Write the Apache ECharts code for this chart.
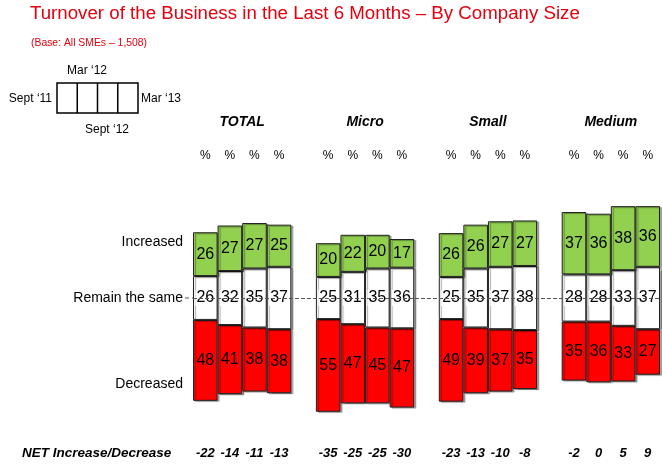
<!DOCTYPE html>
<html>
<head>
<meta charset="utf-8">
<script src="https://cdn.jsdelivr.net/npm/echarts@6/dist/echarts.min.js"></script>
<style>
  html, body { margin: 0; padding: 0; background: #fff; }
  #main { width: 662px; height: 464px; }
</style>
</head>
<body>
<div id="main"></div>
<script>
// groups of bars, 4 periods each
const groups = ['TOTAL', 'Micro', 'Small', 'Medium'];
const periods = ['Sept \u201811', 'Mar \u201812', 'Sept \u201812', 'Mar \u201813'];

const increased = [26, 27, 27, 25, 20, 22, 20, 17, 26, 26, 27, 27, 37, 36, 38, 36];
const sameLevel = [26, 32, 35, 37, 25, 31, 35, 36, 25, 35, 37, 38, 28, 28, 33, 37];
const decreased = [48, 41, 38, 38, 55, 47, 45, 47, 49, 39, 37, 35, 35, 36, 33, 27];
const netLabels = ['-22', '-14', '-11', '-13', '-35', '-25', '-25', '-30', '-23', '-13', '-10', '-8', '-2', '0', '5', '9'];

const rowLabels = ['Increased', 'Remain the same', 'Decreased'];
const rowValues = [33, 0, -51];

const FONT = '"Liberation Sans", Arial, sans-serif';
const GREEN = '#92d050';
const RED = '#ff0000';
const TITLE_RED = '#e3000f';

// spread the bars over slots, one empty slot between groups
var cats = [], inc = [], same = [], dec = [], base = [], net = [];
groups.forEach(function (g, gi) {
  periods.forEach(function (p, pi) {
    var i = gi * 4 + pi;
    cats.push(g + ' ' + p);
    inc.push(increased[i]);
    same.push(sameLevel[i]);
    dec.push(decreased[i]);
    base.push(-(sameLevel[i] / 2 + decreased[i]));
    net.push(netLabels[i]);
  });
  if (gi < groups.length - 1) {
    cats.push('gap' + gi);
    inc.push(null); same.push(null); dec.push(null); base.push(null); net.push('');
  }
});

const chart = echarts.init(document.getElementById('main'));

const barStyle = function (color) {
  return {
    color: color,
    borderColor: '#222',
    borderWidth: 1,
    shadowColor: 'rgba(0,0,0,0.35)',
    shadowOffsetX: 2,
    shadowOffsetY: 1,
    shadowBlur: 1
  };
};
const barLabel = {
  show: true,
  position: 'inside',
  color: '#000',
  fontFamily: FONT,
  fontSize: 16
};

var option = {
  animation: false,
  grid: { left: 193, right: 2, top: 180, bottom: 48 },
  xAxis: [{
    type: 'category',
    data: cats,
    axisLine: { show: false },
    axisTick: { show: false },
    axisLabel: {
      interval: 0,
      margin: 31,
      fontFamily: FONT,
      fontSize: 13,
      fontStyle: 'italic',
      fontWeight: 'bold',
      color: '#000',
      formatter: function (v, idx) { return net[idx]; }
    }
  }, {
    type: 'category',
    position: 'top',
    data: cats,
    axisLine: { show: false },
    axisTick: { show: false },
    axisLabel: {
      interval: 0,
      margin: 18,
      fontFamily: FONT,
      fontSize: 12,
      color: '#000',
      formatter: function (v, idx) { return net[idx] === '' ? '' : '%'; }
    }
  }],
  yAxis: {
    type: 'value',
    min: -70,
    max: 70,
    show: false
  },
  series: [{
    name: 'base',
    type: 'bar',
    stack: 'a',
    stackStrategy: 'all',
    barWidth: '100%',
    silent: true,
    itemStyle: { color: 'transparent' },
    data: base
  }, {
    name: 'Decreased',
    type: 'bar',
    stack: 'a',
    stackStrategy: 'all',
    itemStyle: barStyle(RED),
    label: barLabel,
    data: dec
  }, {
    name: 'Remain the same',
    type: 'bar',
    stack: 'a',
    stackStrategy: 'all',
    itemStyle: barStyle('#fff'),
    label: Object.assign({}, barLabel, { backgroundColor: '#fff', padding: [0, 1] }),
    data: same,
    markLine: {
      silent: true,
      symbol: 'none',
      label: { show: false },
      lineStyle: { type: 'dashed', color: '#555', width: 1 },
      data: [{ yAxis: 0 }]
    }
  }, {
    name: 'Increased',
    type: 'bar',
    stack: 'a',
    stackStrategy: 'all',
    itemStyle: barStyle(GREEN),
    label: barLabel,
    data: inc
  }]
};

chart.setOption(option);

// texts placed from the axes: titles, group headers, row labels, key box
var graphics = [];
graphics.push({
  type: 'text', x: 30, y: 14,
  style: { text: 'Turnover of the Business in the Last 6 Months \u2013 By Company Size', font: '18.7px ' + FONT, fill: TITLE_RED, verticalAlign: 'middle' }
}, {
  type: 'text', x: 31, y: 43,
  style: { text: '(Base: All SMEs \u2013 1,508)', font: '10.4px ' + FONT, fill: TITLE_RED, verticalAlign: 'middle' }
});
groups.forEach(function (g, gi) {
  var x1 = chart.convertToPixel({ xAxisIndex: 0 }, cats[gi * 5 + 1]);
  var x2 = chart.convertToPixel({ xAxisIndex: 0 }, cats[gi * 5 + 2]);
  graphics.push({
    type: 'text', x: (x1 + x2) / 2, y: 122,
    style: { text: g, font: 'italic bold 14px ' + FONT, fill: '#000', align: 'center', verticalAlign: 'middle' }
  });
});
rowLabels.forEach(function (t, i) {
  graphics.push({
    type: 'text', x: 183, y: chart.convertToPixel({ yAxisIndex: 0 }, rowValues[i]),
    style: { text: t, font: '14px ' + FONT, fill: '#000', align: 'right', verticalAlign: 'middle' }
  });
});
var zeroY = chart.convertToPixel({ yAxisIndex: 0 }, 0);
graphics.push({
  type: 'line', shape: { x1: 185, y1: zeroY, x2: 193, y2: zeroY },
  style: { stroke: '#555', lineWidth: 1, lineDash: [4, 3] }
});
graphics.push({
  type: 'text', x: 22, y: 453,
  style: { text: 'NET Increase/Decrease', font: 'italic bold 13.5px ' + FONT, fill: '#000', verticalAlign: 'middle' }
});

// key box showing period order
var kx = 57, ky = 83, kw = 81, kh = 30;
graphics.push({
  type: 'rect', shape: { x: kx, y: ky, width: kw, height: kh },
  style: { fill: '#fff', stroke: '#000', lineWidth: 1.5 }
});
[1, 2, 3].forEach(function (k) {
  var lx = kx + k * kw / 4;
  graphics.push({
    type: 'line', shape: { x1: lx, y1: ky, x2: lx, y2: ky + kh },
    style: { stroke: '#000', lineWidth: 1.5 }
  });
});
var keyFont = '12px ' + FONT;
graphics.push(
  { type: 'text', x: kx - 5, y: 99, style: { text: periods[0], font: keyFont, fill: '#000', align: 'right', verticalAlign: 'middle' } },
  { type: 'text', x: 87, y: 71, style: { text: periods[1], font: keyFont, fill: '#000', align: 'center', verticalAlign: 'middle' } },
  { type: 'text', x: 107, y: 130, style: { text: periods[2], font: keyFont, fill: '#000', align: 'center', verticalAlign: 'middle' } },
  { type: 'text', x: kx + kw + 3, y: 99, style: { text: periods[3], font: keyFont, fill: '#000', align: 'left', verticalAlign: 'middle' } }
);

chart.setOption({ graphic: graphics });
</script>
</body>
</html>
